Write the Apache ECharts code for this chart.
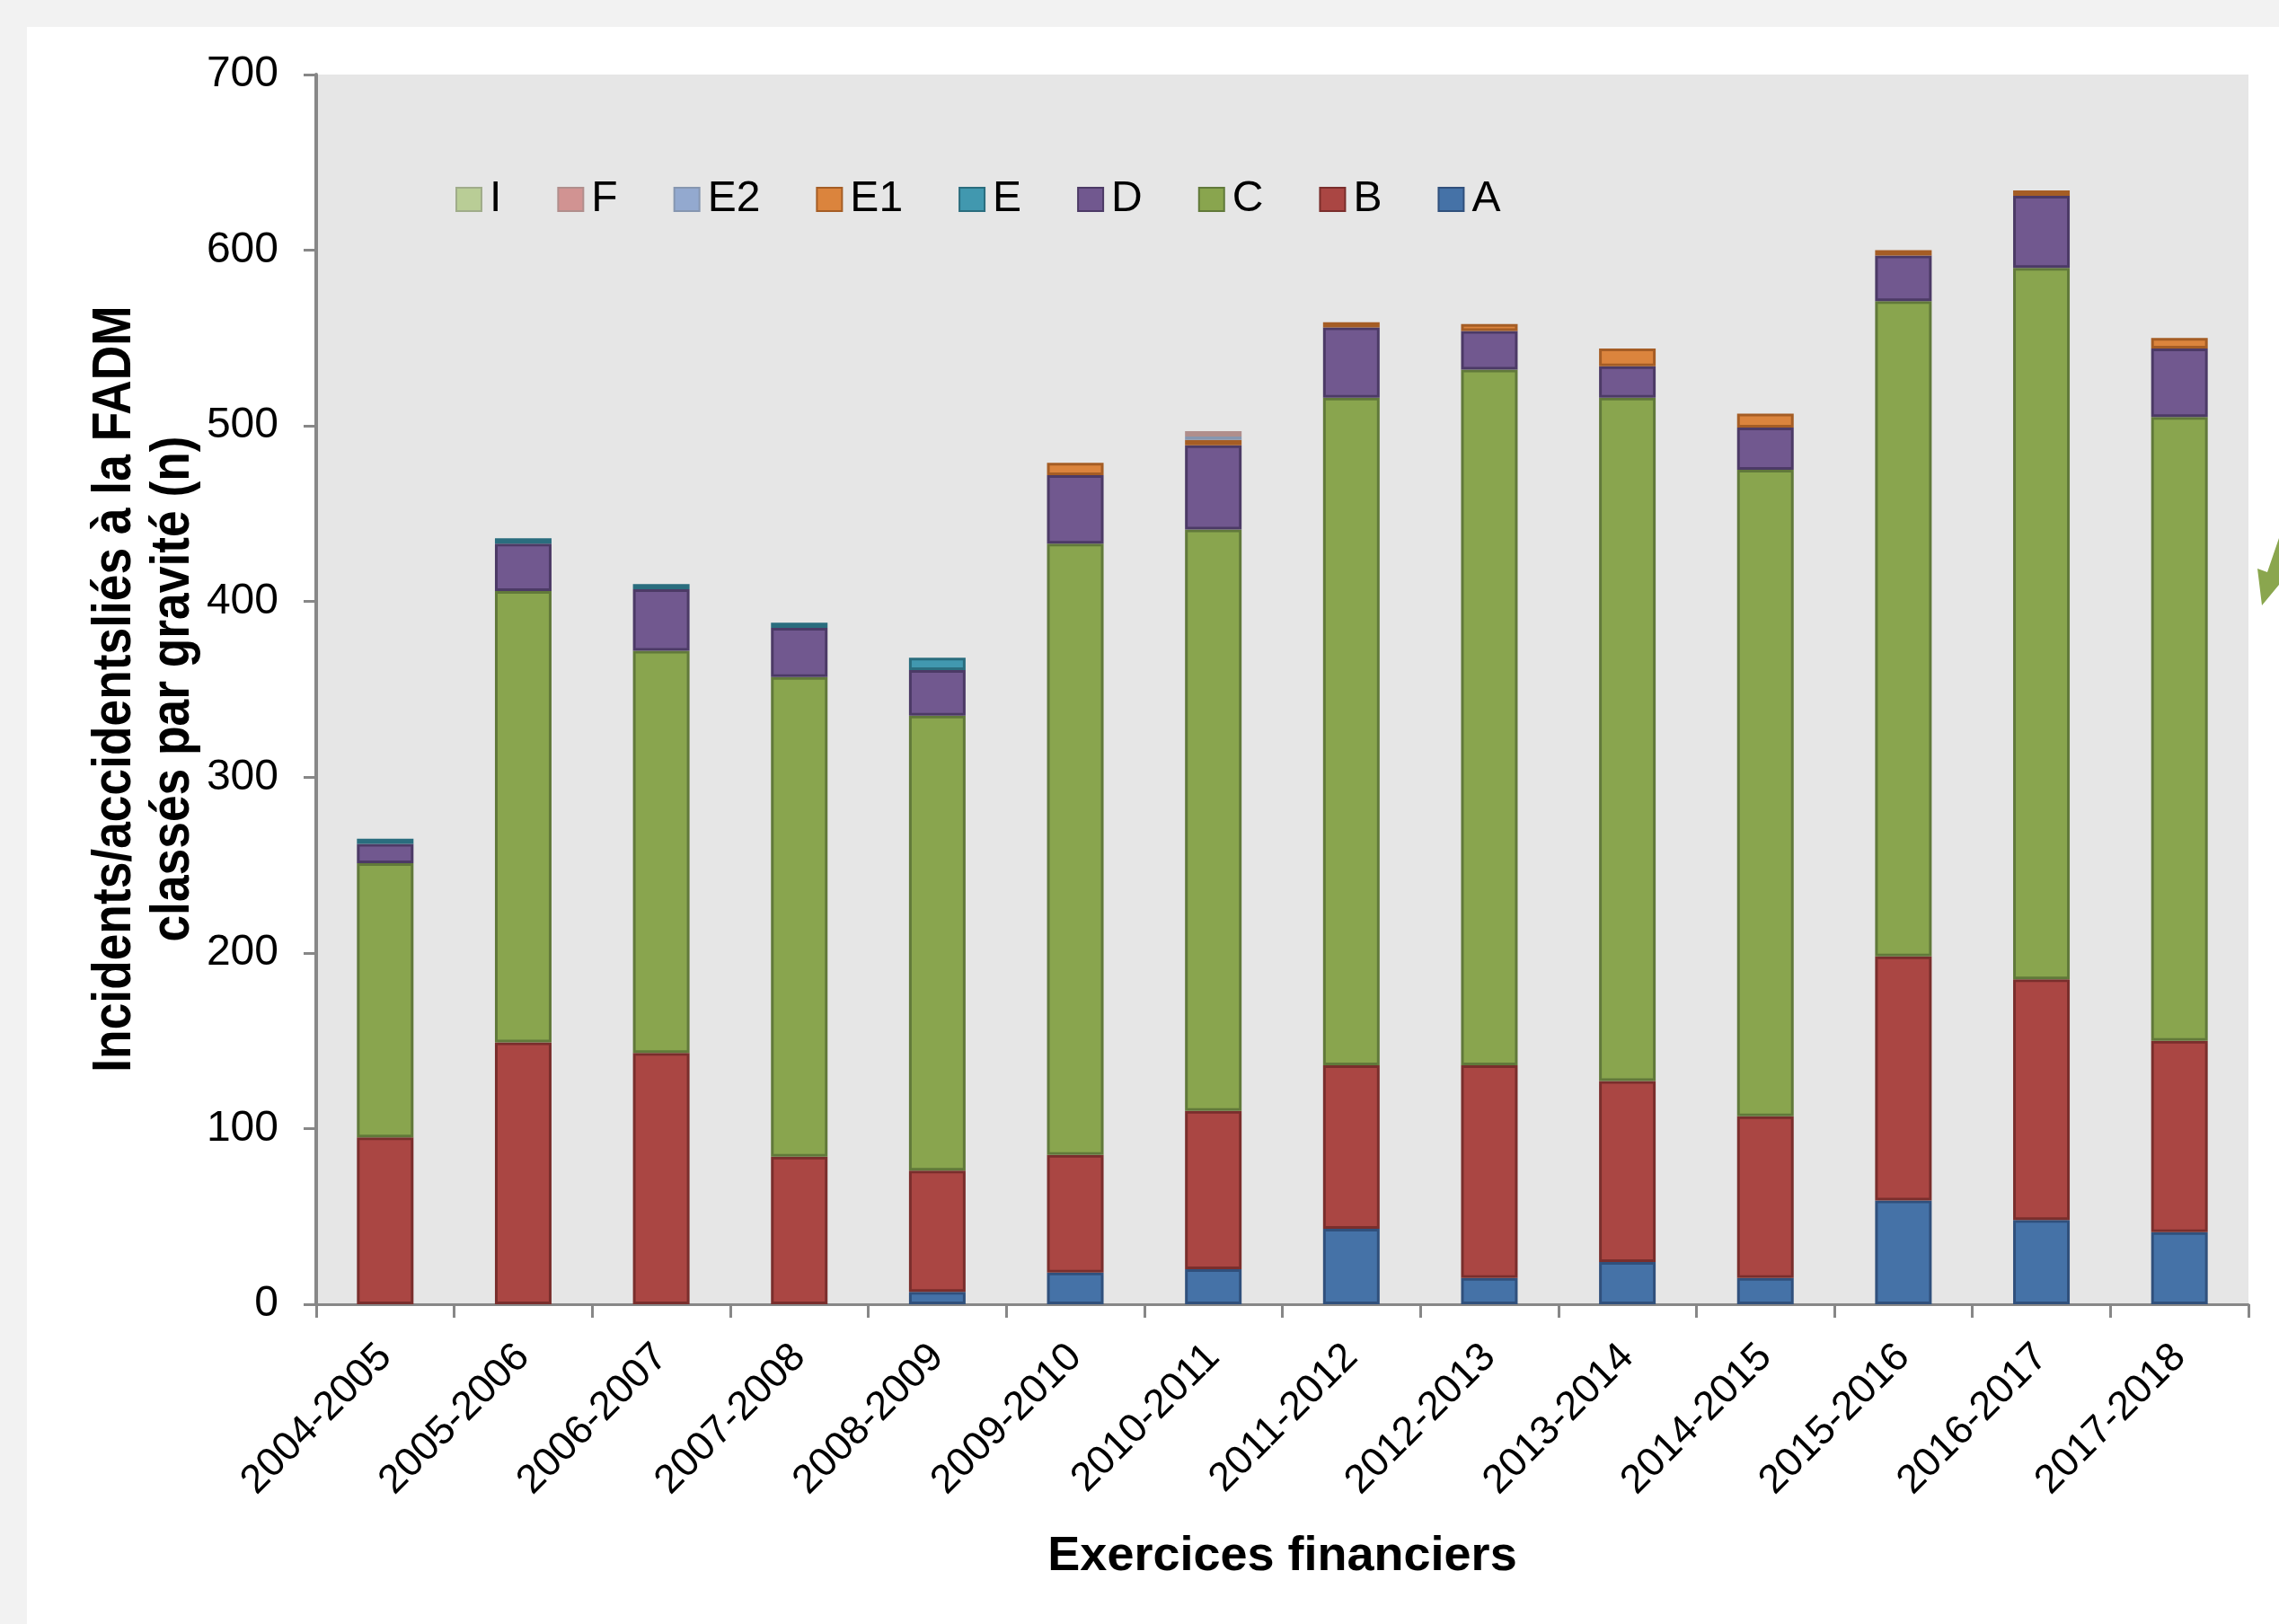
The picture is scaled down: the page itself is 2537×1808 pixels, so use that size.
<!DOCTYPE html>
<html>
<head>
<meta charset="utf-8">
<script src="https://cdn.jsdelivr.net/npm/echarts@6/dist/echarts.min.js"></script>
<style>
  html, body { margin: 0; padding: 0; background: #f2f2f2; }
  #card { position: absolute; left: 30px; top: 30px; right: 0; bottom: 0; background: #ffffff; }
  #chart { position: absolute; left: 0; top: 0; width: 2537px; height: 1808px; }
</style>
</head>
<body>
<div id="card"></div>
<div id="chart"></div>
<script>
// Exercices financiers
const periods = ['2004-2005', '2005-2006', '2006-2007', '2007-2008', '2008-2009', '2009-2010', '2010-2011',
  '2011-2012', '2012-2013', '2013-2014', '2014-2015', '2015-2016', '2016-2017', '2017-2018'];

// incidents par gravité
const gravA  = [0, 0, 0, 0, 7, 18, 20, 43, 15, 24, 15, 59, 48, 41];
const gravB  = [95, 149, 143, 84, 69, 67, 90, 93, 121, 103, 92, 139, 137, 109];
const gravC  = [156, 257, 229, 273, 259, 348, 331, 380, 396, 389, 368, 373, 405, 355];
const gravD  = [11, 27, 35, 28, 26, 39, 48, 40, 22, 18, 24, 26, 41, 39];
const gravE  = [3, 3, 3, 3, 7, 0, 0, 0, 0, 0, 0, 0, 0, 0];
const gravE1 = [0, 0, 0, 0, 0, 7, 3, 3, 4, 10, 8, 3, 3, 6];
const gravE2 = [0, 0, 0, 0, 0, 0, 2, 0, 0, 0, 0, 0, 0, 0];
const gravF  = [0, 0, 0, 0, 0, 0, 3, 0, 0, 0, 0, 0, 0, 0];
const gravI  = [0, 0, 0, 0, 0, 0, 0, 0, 0, 0, 0, 0, 0, 0];

const yTicks = [0, 100, 200, 300, 400, 500, 600, 700];

const font = '"Liberation Sans", Arial, sans-serif';

// ordre d'empilement : A en bas
const seriesDefs = [
  { name: 'A',  data: gravA,  fill: '#4572a7', border: '#30507c' },
  { name: 'B',  data: gravB,  fill: '#aa4643', border: '#7a2e2c' },
  { name: 'C',  data: gravC,  fill: '#89a54e', border: '#61793a' },
  { name: 'D',  data: gravD,  fill: '#71588f', border: '#4c3a66' },
  { name: 'E',  data: gravE,  fill: '#4198af', border: '#2a6d7e' },
  { name: 'E1', data: gravE1, fill: '#db843d', border: '#a55d25' },
  { name: 'E2', data: gravE2, fill: '#93a9cf', border: '#8696b0' },
  { name: 'F',  data: gravF,  fill: '#d19392', border: '#b08e8c' },
  { name: 'I',  data: gravI,  fill: '#b9cd96', border: '#a0ac8a' }
];

const chart = echarts.init(document.getElementById('chart'));

const option = {
  backgroundColor: 'transparent',
  animation: false,
  textStyle: { fontFamily: font, color: '#000' },
  legend: {
    data: ['I', 'F', 'E2', 'E1', 'E', 'D', 'C', 'B', 'A'],
    left: 507,
    top: 198,
    padding: 0,
    icon: 'rect',
    itemWidth: 28,
    itemHeight: 26,
    itemGap: 62,
    textStyle: { fontSize: 48, color: '#000', fontFamily: font, padding: [0, 0, 0, 4] }
  },
  grid: {
    left: 352,
    right: 34,
    top: 83,
    bottom: 356,
    show: true,
    backgroundColor: '#e6e6e6',
    borderWidth: 0
  },
  xAxis: {
    type: 'category',
    data: periods,
    axisLine: { lineStyle: { color: '#878787', width: 3 } },
    axisTick: { show: true, length: 15, lineStyle: { color: '#878787', width: 3 } },
    axisLabel: { rotate: 45, margin: 52, fontSize: 45, color: '#000', fontFamily: font, interval: 0 },
    name: 'Exercices financiers',
    nameLocation: 'middle',
    nameGap: 254,
    nameTextStyle: { fontSize: 54, fontWeight: 'bold', color: '#000', fontFamily: font }
  },
  yAxis: {
    type: 'value',
    min: yTicks[0],
    max: yTicks[yTicks.length - 1],
    interval: 100,
    axisLine: { show: true, lineStyle: { color: '#878787', width: 4 } },
    axisTick: { show: true, length: 14, lineStyle: { color: '#878787', width: 3 } },
    axisLabel: { fontSize: 48, margin: 42, color: '#000', fontFamily: font },
    splitLine: { show: false }
  },
  graphic: [
    {
      type: 'text',
      x: 160,
      y: 767,
      rotation: Math.PI / 2,
      scaleX: 0.86,
      style: {
        text: 'Incidents/accidentsliés à la FADM\nclassés par gravité (n)',
        font: 'bold 62px "Liberation Sans", Arial, sans-serif',
        fill: '#000',
        align: 'center',
        textAlign: 'center',
        verticalAlign: 'middle',
        textVerticalAlign: 'middle',
        lineHeight: 65
      }
    },
    {
      // bout de flèche verte coupé au bord droit
      type: 'polygon',
      shape: { points: [[2537, 599], [2524, 637], [2513, 633], [2518, 674], [2537, 651]] },
      style: { fill: '#8aa64e' }
    }
  ],
  series: seriesDefs.map(s => ({
    name: s.name,
    type: 'bar',
    stack: 'total',
    barWidth: 63,
    data: s.data.map(v => (v === 0 ? '-' : v)),
    itemStyle: { color: s.fill, borderColor: s.border, borderWidth: 3 }
  }))
};

chart.setOption(option);
</script>
</body>
</html>
